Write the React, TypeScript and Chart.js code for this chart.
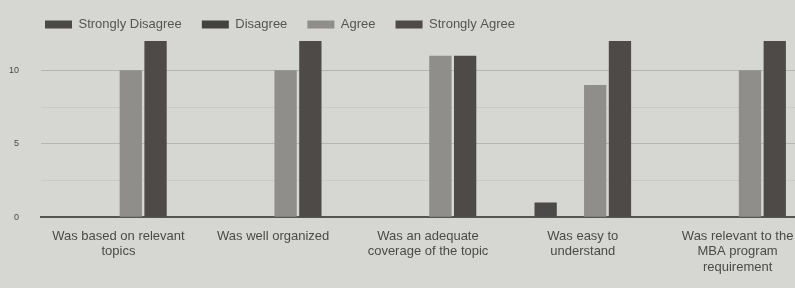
import React, { useEffect, useRef } from "react";
import { Chart, registerables } from "chart.js";

Chart.register(...registerables);

const categories: string[][] = [
  ["Was based on relevant", "topics"],
  ["Was well organized"],
  ["Was an adequate", "coverage of the topic"],
  ["Was easy to", "understand"],
  ["Was relevant to the", "MBA program", "requirement"],
];
const seriesNames = ["Strongly Disagree", "Disagree", "Agree", "Strongly Agree"];
const stronglyDisagree = [0, 0, 0, 1, 0];
const disagree = [0, 0, 0, 0, 0];
const agree = [10, 10, 11, 9, 10];
const stronglyAgree = [12, 12, 11, 12, 12];
const yLabelTicks = [0, 5, 10];

const colors = ["#4b4a48", "#434240", "#8f8e8b", "#4d4a47"];
const FONT = "Liberation Sans, Arial, sans-serif";

const legendShift = {
  id: "legendShift",
  afterLayout(chart: any) {
    if (chart.legend) {
      chart.legend.left += 17;
      chart.legend.right += 17;
    }
  },
};

export default function App() {
  const ref = useRef<HTMLCanvasElement>(null);
  useEffect(() => {
    if (!ref.current) return;
    const data = [stronglyDisagree, disagree, agree, stronglyAgree];
    const chart = new Chart(ref.current, {
      type: "bar",
      data: {
        labels: categories,
        datasets: seriesNames.map((name, i) => ({
          label: name,
          data: data[i],
          backgroundColor: colors[i],
          borderWidth: 0,
          barPercentage: 0.9,
          categoryPercentage: 0.64,
        })),
      },
      options: {
        animation: false,
        responsive: false,
        maintainAspectRatio: false,
        layout: { padding: { left: 8, right: 0, top: -2, bottom: 10 } },
        plugins: {
          legend: {
            position: "top",
            align: "start",
            labels: {
              boxWidth: 27,
              boxHeight: 8,
              padding: 20,
              color: "#555553",
              font: { family: FONT, size: 13 },
            },
          },
          tooltip: { enabled: false },
        },
        scales: {
          x: {
            grid: { display: false },
            border: { display: true, color: "#555553", width: 2 },
            afterFit: (scale: any) => {
              scale.paddingLeft = 0;
              scale.paddingRight = 0;
            },
            ticks: {
              color: "#4a4a48",
              maxRotation: 0,
              autoSkip: false,
              padding: 3,
              font: { family: FONT, size: 13, lineHeight: 1.2 },
            },
          },
          y: {
            min: 0,
            max: 12,
            border: { display: false },
            afterFit: (scale: any) => {
              scale.width = 33;
            },
            ticks: {
              stepSize: 2.5,
              padding: 22,
              color: "#4a4a48",
              font: { family: FONT, size: 9 },
              callback: (v: any) => (yLabelTicks.includes(Number(v)) ? String(v) : ""),
            },
            grid: {
              drawTicks: false,
              color: (ctx: any) => {
                const v = ctx.tick?.value;
                if (v === 0) return "#555553";
                if (v === 12) return "rgba(0,0,0,0)";
                if (v % 5 === 0) return "#b4b4b0";
                return "#c9c9c5";
              },
            },
          },
        },
      },
      plugins: [legendShift],
    });
    return () => chart.destroy();
  }, []);
  return (
    <div
      style={{
        position: "fixed",
        left: 0,
        top: 0,
        width: 795,
        height: 288,
        overflow: "hidden",
        background: "#d6d7d2",
      }}
    >
      <canvas ref={ref} width={815} height={288} style={{ display: "block" }} />
    </div>
  );
}
